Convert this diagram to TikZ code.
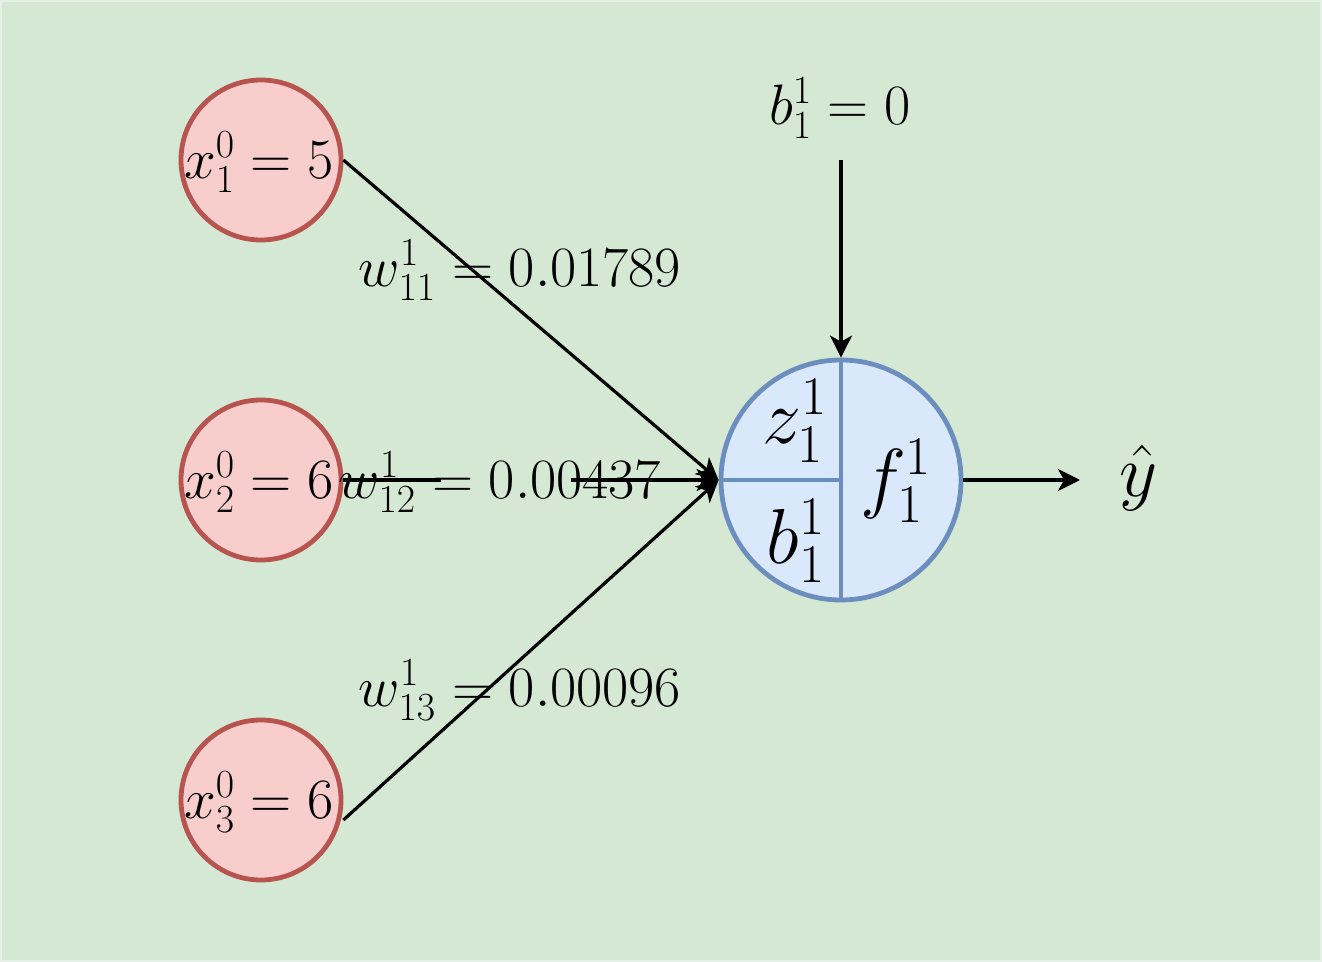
\RequirePackage{fix-cm}
\documentclass[tikz,border=0pt]{standalone}
\usetikzlibrary{arrows.meta,calc}
\definecolor{bggreen}{HTML}{D5E8D4}
\definecolor{bgedge}{HTML}{E6F1E5}
\definecolor{redfill}{HTML}{F8CECC}
\definecolor{redline}{HTML}{B85450}
\definecolor{bluefill}{HTML}{DAE8FC}
\definecolor{blueline}{HTML}{6C8EBF}
\tikzset{
  inp/.style={circle, draw=redline, fill=redfill, line width=2.4pt, minimum size=80pt, inner sep=0pt},
  neuron/.style={circle, draw=blueline, fill=bluefill, line width=2.4pt, minimum size=120pt, inner sep=0pt},
  lbl/.style={font=\fontsize{28.5}{32}\selectfont, inner sep=0pt},
  biglbl/.style={font=\fontsize{39}{44}\selectfont, inner sep=0pt},
  yhatlbl/.style={font=\fontsize{37}{40}\selectfont, inner sep=0pt},
  conn/.style={line width=1.6pt, -{Stealth[length=11pt,width=11pt,inset=3pt]}},
  divider/.style={draw=blueline, line width=1.6pt},
  cover/.style={fill=bggreen, inner sep=0pt, minimum width=65pt, minimum height=8pt},
}
\begin{document}
\begin{tikzpicture}[x=0.5pt,y=-0.5pt]
\useasboundingbox (0,0) rectangle (1322,962);
\fill[white] (0,0) rectangle (1322,962);
\draw[fill=bggreen, draw=bgedge, line width=1pt] (1,1) rectangle (1321,961);

% input neurons
\node[inp] (x1) at (261,160) {};
\node[inp] (x2) at (261,480) {};
\node[inp] (x3) at (261,800) {};

% output neuron
\node[neuron] (n) at (841,480) {};
\draw[divider] (n.north) -- (n.south);
\draw[divider] (n.west) -- (n.center);

% bias and output
\node[lbl] (btxt) at (840,108) {$b_1^1 = 0$};
\coordinate (bstart) at (841,160);
\coordinate (outend) at (1080,480);
\node[yhatlbl] (yhat) at (1138,478) {$\hat{y}$};

% connectors
\draw[conn] (x1.east) -- (n.west);
\draw[conn] (x2.east) -- (n.west);
\draw[conn] ([yshift=-10pt]x3.east) -- (n.west);
\draw[conn] (bstart) -- (n.north);
\draw[conn] (n.east) -- (outend);

% label background covering part of middle edge
\node[cover] (gap) at (506,480) {};

% texts
\node[lbl] (x1t) at (259,162) {$x_1^0 = 5$};
\node[lbl] (x2t) at (259,482) {$x_2^0 = 6$};
\node[lbl] (x3t) at (259,802) {$x_3^0 = 6$};
\node[lbl] (w11) at (520,270) {$w_{11}^1 = 0.01789$};
\node[lbl] (w12) at (500,482) {$w_{12}^1 = 0.00437$};
\node[lbl] (w13) at (520,690) {$w_{13}^1 = 0.00096$};

\node[biglbl] (zt) at (795,421) {$z_1^1$};
\node[biglbl] (bt) at (796,541) {$b_1^1$};
\node[biglbl] (ft) at (896,481) {$f_1^1$};
\end{tikzpicture}
\end{document}
